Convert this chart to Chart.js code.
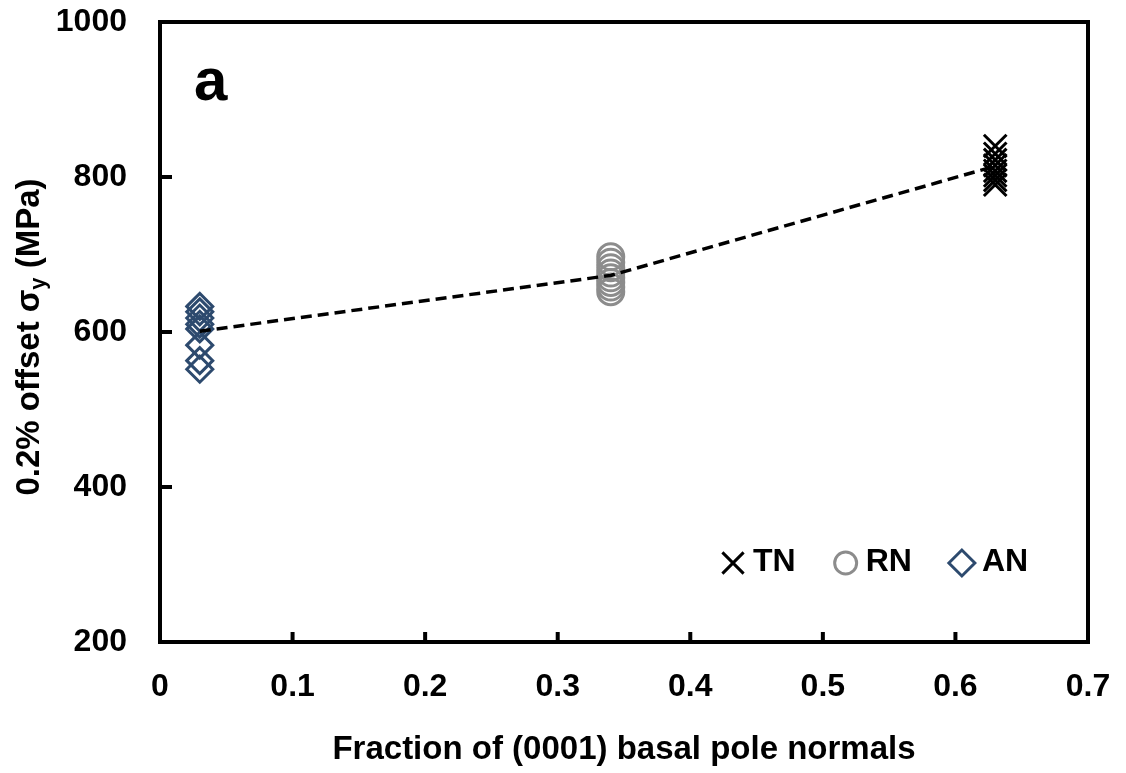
<!DOCTYPE html>
<html>
<head>
<meta charset="utf-8">
<script src="https://cdn.jsdelivr.net/npm/chart.js@4.4.1/dist/chart.umd.min.js"></script>
<style>
    html, body { margin: 0; padding: 0; background: #fff; }
    #wrap { width: 1126px; height: 773px; }
</style>
</head>
<body>
<div id="wrap"><canvas id="chart" width="1126" height="773"></canvas></div>
<script>
// basal pole fraction for each sample group
const tnFraction = 0.63;
const rnFraction = 0.34;
const anFraction = 0.03;

// individual yield stress readings (MPa)
const tnValues = [840, 830, 822, 815, 808, 802, 796, 790];
const rnValues = [697, 690, 683, 676, 670, 664, 658, 652];
const anValues = [633, 626, 618, 610, 604, 583, 563, 552];

// dashed trend line through the group means
const meanFractions = [0.03, 0.34, 0.63];
const meanValues = [601, 673, 814];

const xTicks = [0, 0.1, 0.2, 0.3, 0.4, 0.5, 0.6, 0.7];
const yTicks = [200, 400, 600, 800, 1000];

const FONT = '"Liberation Sans", Arial, sans-serif';

const toPoints = (x, ys) => ys.map(y => ({ x, y }));

// frame, inward ticks, titles, panel letter and legend
const decorPlugin = {
    id: 'decor',
    afterDatasetsDraw(chart) {
        const { ctx, chartArea: a, scales } = chart;
        ctx.save();

        ctx.strokeStyle = '#000';
        ctx.lineWidth = 4;
        ctx.strokeRect(a.left, a.top, a.right - a.left, a.bottom - a.top);

        ctx.beginPath();
        xTicks.forEach(v => {
            const px = scales.x.getPixelForValue(v);
            ctx.moveTo(px, a.bottom);
            ctx.lineTo(px, a.bottom - 10);
        });
        yTicks.forEach(v => {
            const py = scales.y.getPixelForValue(v);
            ctx.moveTo(a.left, py);
            ctx.lineTo(a.left + 12, py);
        });
        ctx.stroke();

        ctx.fillStyle = '#000';

        // x title
        ctx.font = `bold 33px ${FONT}`;
        ctx.textAlign = 'center';
        ctx.textBaseline = 'middle';
        ctx.fillText('Fraction of (0001) basal pole normals', (a.left + a.right) / 2, 750);

        // y title with subscript
        ctx.save();
        ctx.translate(30, (a.top + a.bottom) / 2 + 5);
        ctx.rotate(-Math.PI / 2);
        const partA = '0.2% offset σ';
        const partB = 'y';
        const partC = ' (MPa)';
        ctx.font = `bold 33px ${FONT}`;
        const wA = ctx.measureText(partA).width;
        const wC = ctx.measureText(partC).width;
        ctx.font = `bold 22px ${FONT}`;
        const wB = ctx.measureText(partB).width;
        const x0 = -(wA + wB + wC) / 2;
        ctx.textAlign = 'left';
        ctx.textBaseline = 'middle';
        ctx.font = `bold 33px ${FONT}`;
        ctx.fillText(partA, x0, 0);
        ctx.font = `bold 22px ${FONT}`;
        ctx.fillText(partB, x0 + wA, 9);
        ctx.font = `bold 33px ${FONT}`;
        ctx.fillText(partC, x0 + wA + wB, 0);
        ctx.restore();

        // panel letter
        ctx.font = `bold 60px ${FONT}`;
        ctx.textAlign = 'left';
        ctx.textBaseline = 'alphabetic';
        ctx.fillText('a', 194, 100);

        // legend (inside the plot, lower right)
        ctx.font = `bold 32px ${FONT}`;
        ctx.textBaseline = 'middle';
        let cx = 733;
        const ly = 562;
        chart.data.datasets.forEach(ds => {
            if (!ds.label) return;
            ctx.strokeStyle = ds.pointBorderColor;
            ctx.fillStyle = 'rgba(0,0,0,0)';
            ctx.lineWidth = ds.pointBorderWidth;
            Chart.helpers.drawPoint(ctx, {
                pointStyle: ds.pointStyle,
                radius: ds.pointStyle === 'crossRot' ? 15 : (ds.pointStyle === 'circle' ? 11 : 13),
                borderWidth: ds.pointBorderWidth
            }, cx, ly + 1);
            ctx.fillStyle = '#000';
            const tx = cx + 20;
            ctx.fillText(ds.label, tx, ly);
            cx = tx + ctx.measureText(ds.label).width + 50;
        });

        ctx.restore();
    }
};

const markerSet = (label, x, ys, style, color, radius) => ({
    type: 'scatter',
    label,
    data: toPoints(x, ys),
    pointStyle: style,
    pointRadius: radius,
    pointBorderWidth: 3,
    borderColor: color,
    pointBorderColor: color,
    pointBackgroundColor: 'rgba(0,0,0,0)',
    backgroundColor: 'rgba(0,0,0,0)',
    order: 2
});

new Chart(document.getElementById('chart'), {
    data: {
        datasets: [
            markerSet('TN', tnFraction, tnValues, 'crossRot', '#000000', 16),
            markerSet('RN', rnFraction, rnValues, 'circle', '#8c8c8c', 13),
            markerSet('AN', anFraction, anValues, 'rectRot', '#2d4a6e', 13),
            {
                type: 'line',
                label: '',
                data: meanFractions.map((x, i) => ({ x, y: meanValues[i] })),
                borderColor: '#000',
                borderWidth: 3.5,
                borderDash: [11, 6],
                pointRadius: 0,
                fill: false,
                tension: 0,
                order: 1
            }
        ]
    },
    options: {
        responsive: false,
        animation: false,
        events: [],
        layout: { padding: { top: 22, right: 38, left: 0, bottom: 0 } },
        plugins: {
            legend: { display: false },
            tooltip: { enabled: false }
        },
        scales: {
            x: {
                type: 'linear',
                min: 0,
                max: 0.7,
                afterFit: s => { s.height = 131; s.paddingLeft = 0; s.paddingRight = 0; },
                afterBuildTicks: s => { s.ticks = xTicks.map(v => ({ value: v })); },
                grid: { display: false, drawTicks: false },
                border: { display: false },
                ticks: {
                    padding: 26,
                    color: '#000',
                    font: { family: FONT, size: 32, weight: 'bold' },
                    callback: v => String(Math.round(v * 10) / 10)
                }
            },
            y: {
                type: 'linear',
                min: 200,
                max: 1000,
                afterFit: s => { s.width = 160; s.paddingTop = 0; s.paddingBottom = 0; },
                afterBuildTicks: s => { s.ticks = yTicks.map(v => ({ value: v })); },
                grid: { display: false, drawTicks: false },
                border: { display: false },
                ticks: {
                    padding: 33,
                    color: '#000',
                    font: { family: FONT, size: 32, weight: 'bold' },
                    callback: v => String(v)
                }
            }
        }
    },
    plugins: [decorPlugin]
});
</script>
</body>
</html>
